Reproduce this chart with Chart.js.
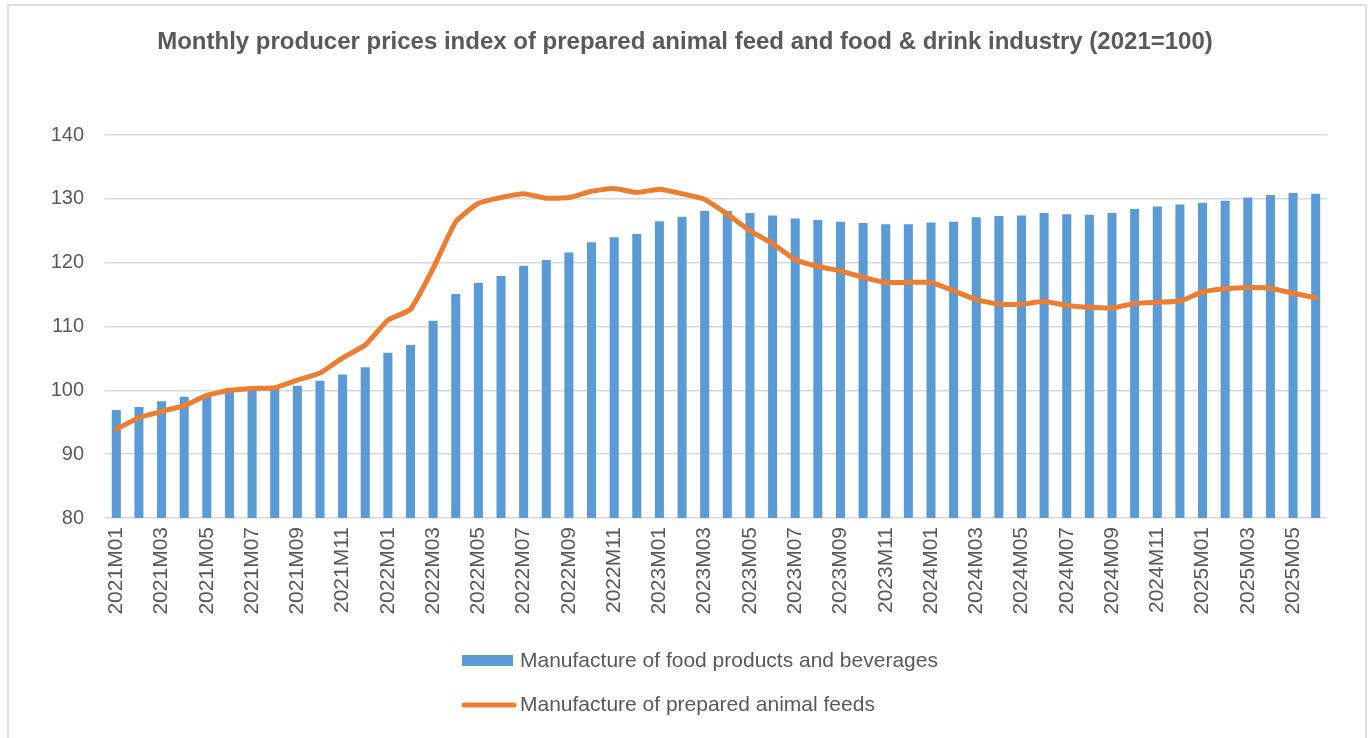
<!DOCTYPE html>
<html>
<head>
<meta charset="utf-8">
<script src="https://cdn.jsdelivr.net/npm/chart.js@4.4.1/dist/chart.umd.min.js"></script>
<style>
  html, body { margin: 0; padding: 0; background: #fff; overflow: hidden; }
  #wrap { position: relative; width: 1370px; height: 738px; }
  #frame { position: absolute; left: 7px; top: 4px; width: 1360px; height: 760px; border: 2px solid #dedede; box-sizing: border-box; }
  canvas { position: absolute; left: 0; top: 0; }
</style>
</head>
<body>
<div id="wrap">
  <div id="frame"></div>
  <canvas id="chartPpi"></canvas>
</div>
<script>
const months = [
  '2021M01','2021M02','2021M03','2021M04','2021M05','2021M06','2021M07','2021M08','2021M09','2021M10','2021M11','2021M12',
  '2022M01','2022M02','2022M03','2022M04','2022M05','2022M06','2022M07','2022M08','2022M09','2022M10','2022M11','2022M12',
  '2023M01','2023M02','2023M03','2023M04','2023M05','2023M06','2023M07','2023M08','2023M09','2023M10','2023M11','2023M12',
  '2024M01','2024M02','2024M03','2024M04','2024M05','2024M06','2024M07','2024M08','2024M09','2024M10','2024M11','2024M12',
  '2025M01','2025M02','2025M03','2025M04','2025M05','2025M06'
];

// Manufacture of food products and beverages
const foodDrink = [
  96.9, 97.4, 98.3, 99.0, 99.3, 99.8, 100.1, 100.2, 100.7, 101.5, 102.5, 103.6,
  105.9, 107.1, 110.9, 115.1, 116.8, 117.9, 119.5, 120.4, 121.6, 123.2, 124.0, 124.5,
  126.5, 127.2, 128.1, 128.1, 127.8, 127.4, 126.9, 126.7, 126.4, 126.2, 126.0, 126.0,
  126.3, 126.4, 127.1, 127.3, 127.4, 127.8, 127.6, 127.5, 127.8, 128.4, 128.8, 129.1,
  129.4, 129.7, 130.2, 130.6, 130.9, 130.8
];

// Manufacture of prepared animal feeds
const animalFeed = [
  93.9, 95.7, 96.7, 97.6, 99.2, 100.0, 100.3, 100.4, 101.6, 102.7, 105.1, 107.1,
  111.0, 112.7, 119.1, 126.4, 129.3, 130.2, 130.8, 130.1, 130.2, 131.2, 131.6, 131.0,
  131.5, 130.8, 129.9, 127.6, 125.0, 123.0, 120.5, 119.4, 118.7, 117.7, 116.9, 116.9,
  116.9, 115.6, 114.2, 113.5, 113.5, 113.9, 113.3, 113.0, 112.9, 113.6, 113.8, 114.0,
  115.4, 115.9, 116.1, 116.0, 115.2, 114.5
];

const yTicks = [80, 90, 100, 110, 120, 130, 140];

const seriesNames = ['Manufacture of food products and beverages', 'Manufacture of prepared animal feeds'];
const blue = '#5b9bd5';
const orange = '#ed7d31';
const grey = '#595959';
const fontFam = '"Liberation Sans", Arial, sans-serif';

// legend stacked vertically under the axis labels, like the excel one
const stackedLegend = {
  id: 'stackedLegend',
  afterDraw(chart) {
    const c = chart.ctx;
    c.save();
    c.font = '21px ' + fontFam;
    c.textBaseline = 'middle';
    c.textAlign = 'left';

    c.fillStyle = blue;
    c.fillRect(462, 655, 51, 11);
    c.fillStyle = grey;
    c.fillText(seriesNames[0], 520, 661);

    c.strokeStyle = orange;
    c.lineWidth = 5;
    c.lineCap = 'round';
    c.beginPath();
    c.moveTo(464, 705);
    c.lineTo(514, 705);
    c.stroke();
    c.fillText(seriesNames[1], 520, 705);
    c.restore();
  }
};

const ctx = document.getElementById('chartPpi');

let chartPpi = new Chart(ctx, {
  type: 'bar',
  data: {
    labels: months,
    datasets: [
      {
        type: 'bar',
        label: seriesNames[0],
        data: foodDrink,
        backgroundColor: blue,
        categoryPercentage: 1.0,
        barPercentage: 0.4,
        order: 1
      },
      {
        type: 'line',
        label: seriesNames[1],
        data: animalFeed,
        borderColor: orange,
        borderWidth: 5,
        borderCapStyle: 'round',
        borderJoinStyle: 'round',
        pointRadius: 0,
        tension: 0.15,
        fill: false,
        order: 0
      }
    ]
  },
  options: {
    responsive: true,
    maintainAspectRatio: false,
    animation: false,
    devicePixelRatio: 1,
    layout: { padding: 0 },
    plugins: {
      legend: { display: false },
      tooltip: { enabled: false },
      title: {
        display: true,
        text: 'Monthly producer prices index of prepared animal feed and food & drink industry (2021=100)',
        color: grey,
        font: { family: fontFam, size: 24, weight: 'bold', lineHeight: 1.2 },
        padding: { top: 28, bottom: 78.2 }
      }
    },
    scales: {
      x: {
        grid: { display: false, drawTicks: false },
        border: { display: false },
        ticks: {
          autoSkip: false,
          maxRotation: 90,
          minRotation: 90,
          padding: 9,
          color: grey,
          font: { family: fontFam, size: 21 },
          callback: function (value, index) {
            return index % 2 === 0 ? months[index] : '';
          }
        },
        afterFit: function (scale) { scale.height = 220; }
      },
      y: {
        min: yTicks[0],
        max: yTicks[yTicks.length - 1],
        grid: { color: '#d9d9d9', lineWidth: 1.5, drawTicks: false },
        border: { display: false },
        ticks: {
          stepSize: 10,
          padding: 21,
          color: grey,
          font: { family: fontFam, size: 20 }
        },
        afterBuildTicks: function (scale) {
          scale.ticks = yTicks.map(v => ({ value: v }));
        },
        afterFit: function (scale) { scale.width = 105; }
      },
      // empty right-hand axis, only keeps the plot off the right edge
      yRight: {
        position: 'right',
        min: yTicks[0],
        max: yTicks[yTicks.length - 1],
        grid: { display: false, drawTicks: false },
        border: { display: false },
        ticks: { display: false },
        afterFit: function (scale) { scale.width = 43; }
      }
    }
  },
  plugins: [stackedLegend]
});
</script>
</body>
</html>
